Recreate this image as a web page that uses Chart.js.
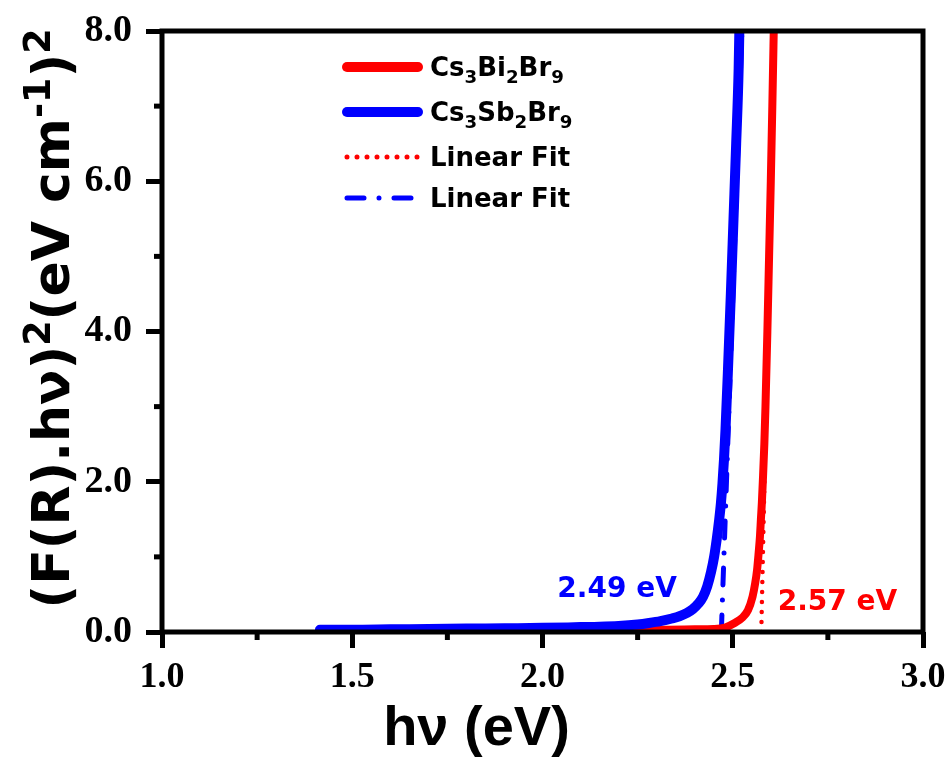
<!DOCTYPE html>
<html>
<head>
<meta charset="utf-8">
<title>Tauc plot</title>
<script src="https://cdn.jsdelivr.net/npm/chart.js@4.4.1/dist/chart.umd.min.js"></script>
<style>
  html, body { margin: 0; padding: 0; background: #fff; }
  #wrap { width: 952px; height: 762px; }
</style>
</head>
<body>
<div id="wrap"><canvas id="taucChart" width="952" height="762"></canvas></div>
<script>
// Cs3Bi2Br9 : (F(R).hv)^2 against photon energy
const biEnergy = [1.60, 1.80, 2.00, 2.20, 2.30, 2.40, 2.45, 2.48, 2.505, 2.525, 2.540, 2.552, 2.559, 2.564, 2.568, 2.5715, 2.574, 2.5765, 2.579, 2.583, 2.586, 2.591, 2.5955, 2.600, 2.604, 2.6085];
const biSignal = [0.02, 0.025, 0.03, 0.03, 0.03, 0.035, 0.04, 0.06, 0.12, 0.19, 0.29, 0.47, 0.65, 0.83, 1.05, 1.27, 1.5, 1.72, 2.0, 2.5, 3.0, 4.0, 5.0, 6.0, 7.0, 8.2];

// Cs3Sb2Br9
const sbEnergy = [1.415, 1.50, 1.60, 1.70, 1.80, 1.90, 2.00, 2.10, 2.15, 2.20, 2.25, 2.28, 2.31, 2.34, 2.36, 2.38, 2.395, 2.41, 2.422, 2.433, 2.443, 2.451, 2.458, 2.464, 2.469, 2.473, 2.477, 2.481, 2.4875, 2.495, 2.502, 2.509, 2.5155, 2.518];
const sbSignal = [0.03, 0.03, 0.035, 0.04, 0.045, 0.05, 0.055, 0.065, 0.07, 0.08, 0.10, 0.12, 0.145, 0.18, 0.21, 0.255, 0.305, 0.38, 0.47, 0.61, 0.80, 1.0, 1.24, 1.48, 1.72, 1.98, 2.3, 2.7, 3.5, 4.5, 5.5, 6.5, 7.5, 8.2];

// linear fits of the absorption edges
const biFitEnergy = [2.575, 2.608];
const biFitSignal = [0, 8.0];
const sbFitEnergy = [2.470, 2.524];
const sbFitSignal = [0, 8.0];

// band gap labels
const gapLabels = ['2.49 eV', '2.57 eV'];
const gapLabelAt = [[2.039, 0.47], [2.618, 0.29]];

const xMajorTicks = [1.0, 1.5, 2.0, 2.5, 3.0];
const xMinorTicks = [1.25, 1.75, 2.25, 2.75];
const yMajorTicks = [0, 2, 4, 6, 8];
const yMinorTicks = [1, 3, 5, 7];

const RED = '#ff0000';
const BLUE = '#0000ff';
const SANS = '"DejaVu Sans", "Liberation Sans", sans-serif';
const ARIAL = '"Liberation Sans", Arial, sans-serif';
const SERIF = '"Liberation Serif", "Times New Roman", serif';

const toPoints = (xs, ys) => xs.map((x, i) => ({ x: x, y: ys[i] }));

// draw text pieces with sub/superscripts, returns width
function drawRich(ctx, parts, x, y, size, measureOnly) {
    let cx = x;
    parts.forEach(([text, kind]) => {
        let fs = size, dy = 0;
        if (kind === 'sup') { fs = size * 0.7; dy = -size * 0.36; }
        if (kind === 'sub') { fs = size * 0.7; dy = size * 0.28; }
        ctx.font = `bold ${fs}px ${SANS}`;
        if (!measureOnly) ctx.fillText(text, cx, y + dy);
        cx += ctx.measureText(text).width;
    });
    return cx - x;
}

// chemical formula -> digits as subscripts
function formulaParts(label) {
    return label.split(/(\d+)/).filter(s => s).map(s => [s, /^\d+$/.test(s) ? 'sub' : 'n']);
}

const framePlugin = {
    id: 'frame',
    afterDatasetsDraw(chart) {
        const { ctx, chartArea: a, scales } = chart;
        ctx.save();
        ctx.strokeStyle = '#000';
        ctx.lineWidth = 5;
        ctx.strokeRect(a.left, a.top, a.right - a.left, a.bottom - a.top);
        // minor ticks
        xMinorTicks.forEach(v => {
            const px = scales.x.getPixelForValue(v);
            ctx.beginPath(); ctx.moveTo(px, a.bottom); ctx.lineTo(px, a.bottom + 8); ctx.stroke();
        });
        yMinorTicks.forEach(v => {
            const py = scales.y.getPixelForValue(v);
            ctx.beginPath(); ctx.moveTo(a.left, py); ctx.lineTo(a.left - 8, py); ctx.stroke();
        });
        ctx.restore();
    },
    afterDraw(chart) {
        const { ctx, chartArea: a, scales } = chart;
        ctx.save();
        ctx.fillStyle = '#000';
        ctx.textBaseline = 'alphabetic';
        ctx.textAlign = 'left';

        // x title
        ctx.font = `bold 56px ${ARIAL}`;
        const xt = 'hν (eV)';
        const xw = ctx.measureText(xt).width;
        ctx.fillText(xt, (a.left + a.right) / 2 - 66 - xw / 2, a.bottom + 113);

        // y title
        const yParts = [['(F(R).hν)', 'n'], ['2', 'sup'], ['(eV cm', 'n'], ['-1', 'sup'], [')', 'n'], ['2', 'sup']];
        const yw = drawRich(ctx, yParts, 0, 0, 52, true);
        ctx.translate(a.left - 93, (a.top + a.bottom) / 2 - 13);
        ctx.rotate(-Math.PI / 2);
        drawRich(ctx, yParts, -yw / 2, 0, 52);
        ctx.restore();

        // legend
        ctx.save();
        const lx = a.left + 183, ly = a.top + 36;
        const rows = [0, 45, 90, 131];
        chart.data.datasets.forEach((ds, i) => {
            const y = ly + rows[i];
            ctx.strokeStyle = ds.borderColor;
            ctx.lineWidth = ds.borderDash.length ? 5 : 10;
            ctx.lineCap = 'round';
            ctx.setLineDash(ds.borderDash);
            ctx.beginPath();
            ctx.moveTo(lx + 2, y); ctx.lineTo(lx + 73, y);
            ctx.stroke();
            ctx.setLineDash([]);
            ctx.fillStyle = '#000';
            drawRich(ctx, formulaParts(ds.label), lx + 85, y + 9, 26);
        });

        // band gap values
        ctx.font = `bold 28px ${SANS}`;
        [BLUE, RED].forEach((c, i) => {
            ctx.fillStyle = c;
            ctx.fillText(gapLabels[i], scales.x.getPixelForValue(gapLabelAt[i][0]), scales.y.getPixelForValue(gapLabelAt[i][1]));
        });
        ctx.restore();
    }
};

new Chart(document.getElementById('taucChart'), {
    type: 'line',
    data: {
        datasets: [
            { label: 'Cs3Bi2Br9', data: toPoints(biEnergy, biSignal), borderColor: RED, borderWidth: 8, borderDash: [], order: 1 },
            { label: 'Cs3Sb2Br9', data: toPoints(sbEnergy, sbSignal), borderColor: BLUE, borderWidth: 10, borderDash: [], order: 0 },
            { label: 'Linear Fit', data: toPoints(biFitEnergy, biFitSignal), borderColor: RED, borderWidth: 4.5, borderDash: [0, 10], order: 2 },
            { label: 'Linear Fit', data: toPoints(sbFitEnergy, sbFitSignal), borderColor: BLUE, borderWidth: 5, borderDash: [17, 15, 0, 15], order: 3 }
        ]
    },
    options: {
        responsive: false,
        animation: false,
        devicePixelRatio: 1,
        layout: { padding: { left: 0, right: 29, top: 31, bottom: 0 } },
        elements: {
            point: { radius: 0 },
            line: { cubicInterpolationMode: 'monotone', borderCapStyle: 'round', borderJoinStyle: 'round', fill: false }
        },
        datasets: { line: { clip: 0 } },
        plugins: { legend: { display: false }, tooltip: { enabled: false } },
        scales: {
            x: {
                type: 'linear',
                min: 1.0, max: 3.0,
                afterBuildTicks: s => { s.ticks = xMajorTicks.map(v => ({ value: v })); },
                afterFit: s => { s.height = 130; s.paddingLeft = 0; s.paddingRight = 0; },
                grid: { display: true, drawOnChartArea: false, drawTicks: true, tickLength: 16, lineWidth: 5, color: '#000' },
                border: { display: false },
                ticks: { font: { family: SERIF, weight: 'bold', size: 36 }, color: '#000', padding: 8, maxRotation: 0, callback: v => v.toFixed(1) }
            },
            y: {
                type: 'linear',
                min: 0, max: 8,
                afterBuildTicks: s => { s.ticks = yMajorTicks.map(v => ({ value: v })); },
                afterFit: s => { s.width = 162; s.paddingTop = 0; s.paddingBottom = 0; },
                grid: { display: true, drawOnChartArea: false, drawTicks: true, tickLength: 16, lineWidth: 5, color: '#000' },
                border: { display: false },
                ticks: { font: { family: SERIF, weight: 'bold', size: 38 }, color: '#000', padding: 14, callback: v => v.toFixed(1) }
            }
        }
    },
    plugins: [framePlugin]
});
</script>
</body>
</html>
